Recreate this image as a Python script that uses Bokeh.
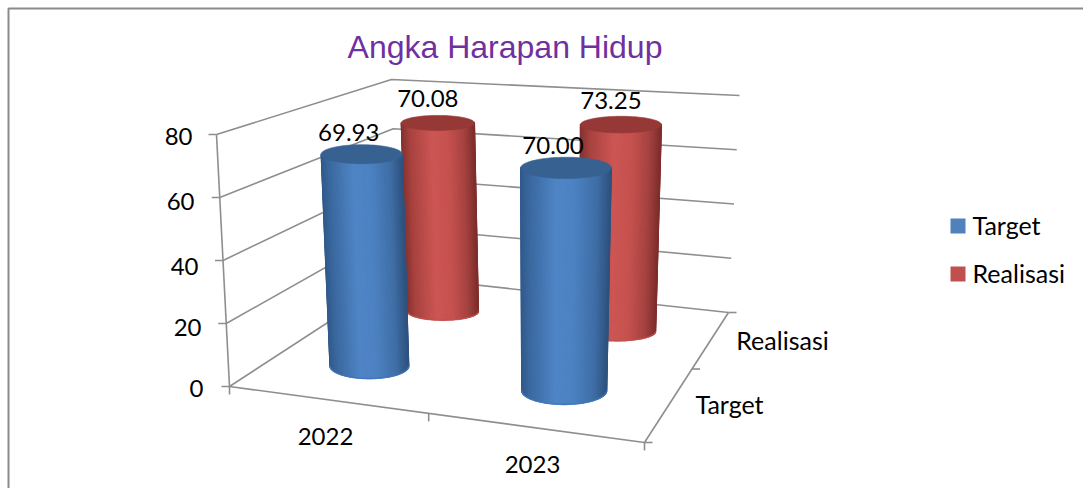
import numpy as np
from bokeh.plotting import figure
from bokeh.models import Range1d
from bokeh.core.properties import value
from bokeh.embed import file_html
from bokeh.resources import INLINE

# ---- data ----
TITLE = "Angka Harapan Hidup"
CATEGORIES = ["2022", "2023"]
SERIES = ["Target", "Realisasi"]
TARGET = [69.93, 70.00]
REALISASI = [70.08, 73.25]
LABELS_TARGET = ["69.93", "70.00"]
LABELS_REALISASI = ["70.08", "73.25"]
Y_TICKS = [0, 20, 40, 60, 80]

# ---- layout: the 3D box as seen on the page ----
YMAX = 80.0
FLOOR = [(229, 386), (644, 442), (728, 312), (398, 276)]   # FL FR BR BL
TOP = [(216, 134), (655, 163), (739, 95), (391, 79)]
U_POS = [0.25, 0.75]
U_SHIFT = [-0.005, 0.0]
V_POS = [0.245, 0.725]
RADIUS = 0.105
RY_TOP = [0.235, 0.205]
RY_BOT = [0.325, 0.25]
LABEL_DX = [-13, -10]
LABEL_DY = [-22, -24]
GREY = "#8e8e8e"
FONT = value("Lato")


def quad_at(w):
    return [((1 - w) * a[0] + w * b[0], (1 - w) * a[1] + w * b[1]) for a, b in zip(FLOOR, TOP)]


def project(u, v, val):
    """(category position, series position, value) -> page pixels, by a perspective map."""
    w = val / YMAX
    (x0, y0), (x1, y1), (x2, y2), (x3, y3) = quad_at(w)
    dx1, dx2, sx = x1 - x2, x3 - x2, x0 - x1 + x2 - x3
    dy1, dy2, sy = y1 - y2, y3 - y2, y0 - y1 + y2 - y3
    den = dx1 * dy2 - dx2 * dy1
    g = (sx * dy2 - dx2 * sy) / den
    h = (dx1 * sy - sx * dy1) / den
    a, b, c = x1 - x0 + g * x1, x3 - x0 + h * x3, x0
    d, e, f = y1 - y0 + g * y1, y3 - y0 + h * y3, y0
    q = g * u + h * v + 1
    return (a * u + b * v + c) / q, (d * u + e * v + f) / q


def hexrgb(s):
    return np.array([int(s[i:i + 2], 16) for i in (1, 3, 5)], float)


def shade(stops, t):
    ts = [s[0] for s in stops]
    rgb = [np.interp(t, ts, [hexrgb(s[1])[k] for s in stops]) for k in range(3)]
    return "#%02x%02x%02x" % tuple(int(round(c)) for c in rgb)


BLUE = [(-1, "#31598a"), (-.8, "#3a689e"), (-.2, "#4f85c6"), (.2, "#4c82c2"),
        (.7, "#3f6ea6"), (1, "#2e527e")]
RED = [(-1, "#84312f"), (-.75, "#a8423f"), (-.15, "#cc5653"), (.3, "#c5514e"),
       (.72, "#a54240"), (1, "#7e2e2c")]
STOPS = [BLUE, RED]
CAP = ["#376190", "#953836"]
RIM = ["#3f76bb", "#c4504d"]
LEGEND_COL = ["#4f81bd", "#c0504d"]

OX, OY, W, H = 0, 0, 1083, 488
p = figure(width=W, height=H, output_backend="svg", toolbar_location=None,
           x_range=Range1d(OX, OX + W), y_range=Range1d(OY + H, OY),
           min_border=0, outline_line_color=None, background_fill_color="white",
           border_fill_color="white")
p.axis.visible = False
p.grid.visible = False

# frame of the picture
p.line([OX + W, 8, 8], [8, 8, OY + H], line_color="#8a8a8a", line_width=2)

# walls and floor
for t in Y_TICKS:
    xl, yl = project(0, 0, t)
    xb, yb = project(0, 1, t)
    xr, yr = project(1, 1, t)
    p.line([xl, xb, xr], [yl, yb, yr], line_color=GREY, line_width=1.6)
    p.line([xl - 8, xl], [yl, yl], line_color=GREY, line_width=1.6)
xa0, ya0 = project(0, 0, 0)
xa1, ya1 = project(0, 0, YMAX)
p.line([xa0, xa1], [ya0, ya1], line_color=GREY, line_width=1.6)
for u in [0, 0.5, 1]:
    x, y = project(u, 0, 0)
    p.line([x, x], [y, y + 8], line_color=GREY, line_width=1.6)
p.line(*zip(project(0, 0, 0), project(1, 0, 0)), line_color=GREY, line_width=1.6)
p.line(*zip(project(1, 0, 0), project(1, 1, 0)), line_color=GREY, line_width=1.6)
for v in [0, 0.5, 1]:
    x, y = project(1, v, 0)
    p.line([x, x + 8], [y, y], line_color=GREY, line_width=1.6)


def cylinder(u, v, val, s):
    bx, by = project(u, v, 0)
    tx, ty = project(u, v, val)
    rb = abs(project(u + RADIUS, v, 0)[0] - project(u - RADIUS, v, 0)[0]) / 2
    rt = abs(project(u + RADIUS, v, val)[0] - project(u - RADIUS, v, val)[0]) / 2
    ryb, ryt = RY_BOT[s] * rb, RY_TOP[s] * rt
    th = np.linspace(0, np.pi, 61)
    c = -np.cos(th)
    sn = np.sin(th)
    xs, ys, cols = [], [], []
    for i in range(len(th) - 1):
        xs.append([tx + rt * c[i], tx + rt * c[i + 1], bx + rb * c[i + 1], bx + rb * c[i]])
        ys.append([ty, ty, by + ryb * sn[i + 1], by + ryb * sn[i]])
        cols.append(shade(STOPS[s], (c[i] + c[i + 1]) / 2))
    p.patches(xs, ys, fill_color=cols, line_color=cols, line_width=1.2)
    p.line(list(bx + rb * c), list(by + ryb * sn), line_color=RIM[s], line_width=1.6, line_alpha=0.8)
    an = np.linspace(0, 2 * np.pi, 80)
    p.patch(list(tx + rt * np.cos(an)), list(ty + ryt * np.sin(an)), fill_color=CAP[s],
            line_color=CAP[s], line_width=0.6)
    return tx, ty


VALUES = [TARGET, REALISASI]
TEXTS = [LABELS_TARGET, LABELS_REALISASI]
tops = {}
for s in [1, 0]:
    for c_i in range(len(CATEGORIES)):
        tops[(s, c_i)] = cylinder(U_POS[c_i] + U_SHIFT[s], V_POS[s], VALUES[s][c_i], s)


def label(x, y, text, align="center", size="24px", color="#000000", font=FONT):
    p.text([x], [y], text=[text], text_align=align, text_baseline="middle",
           text_font=font, text_font_size=size, text_color=color)


# data labels
for s in [1, 0]:
    for c_i in range(len(CATEGORIES)):
        tx, ty = tops[(s, c_i)]
        label(tx + LABEL_DX[s], ty + LABEL_DY[s], TEXTS[s][c_i])

# value axis labels
for t, (x, y) in zip(Y_TICKS, [(203, 388), (201, 327), (198, 266), (194, 201), (192, 136)]):
    label(x, y, str(t), align="right")

# category and depth axis labels
for t, (x, y) in zip(CATEGORIES, [(325, 436), (532, 464)]):
    label(x, y, t)
for t, (x, y) in zip(SERIES, [(729, 403), (782, 339)]):
    label(x, y, t, size="25px")

# title
label(504.5, 46, TITLE, size="32px", color="#7030a0", font=value("Liberation Sans"))

# legend
for i, (t, ytop, yb) in enumerate(zip(SERIES, [218, 266], [224.5, 272.5])):
    p.quad(left=[950], right=[965], top=[ytop], bottom=[ytop + 15], fill_color=LEGEND_COL[i], line_color=None)
    label(972, yb, t, align="left", size="25px")

open("out.html", "w").write(file_html(p, INLINE))
